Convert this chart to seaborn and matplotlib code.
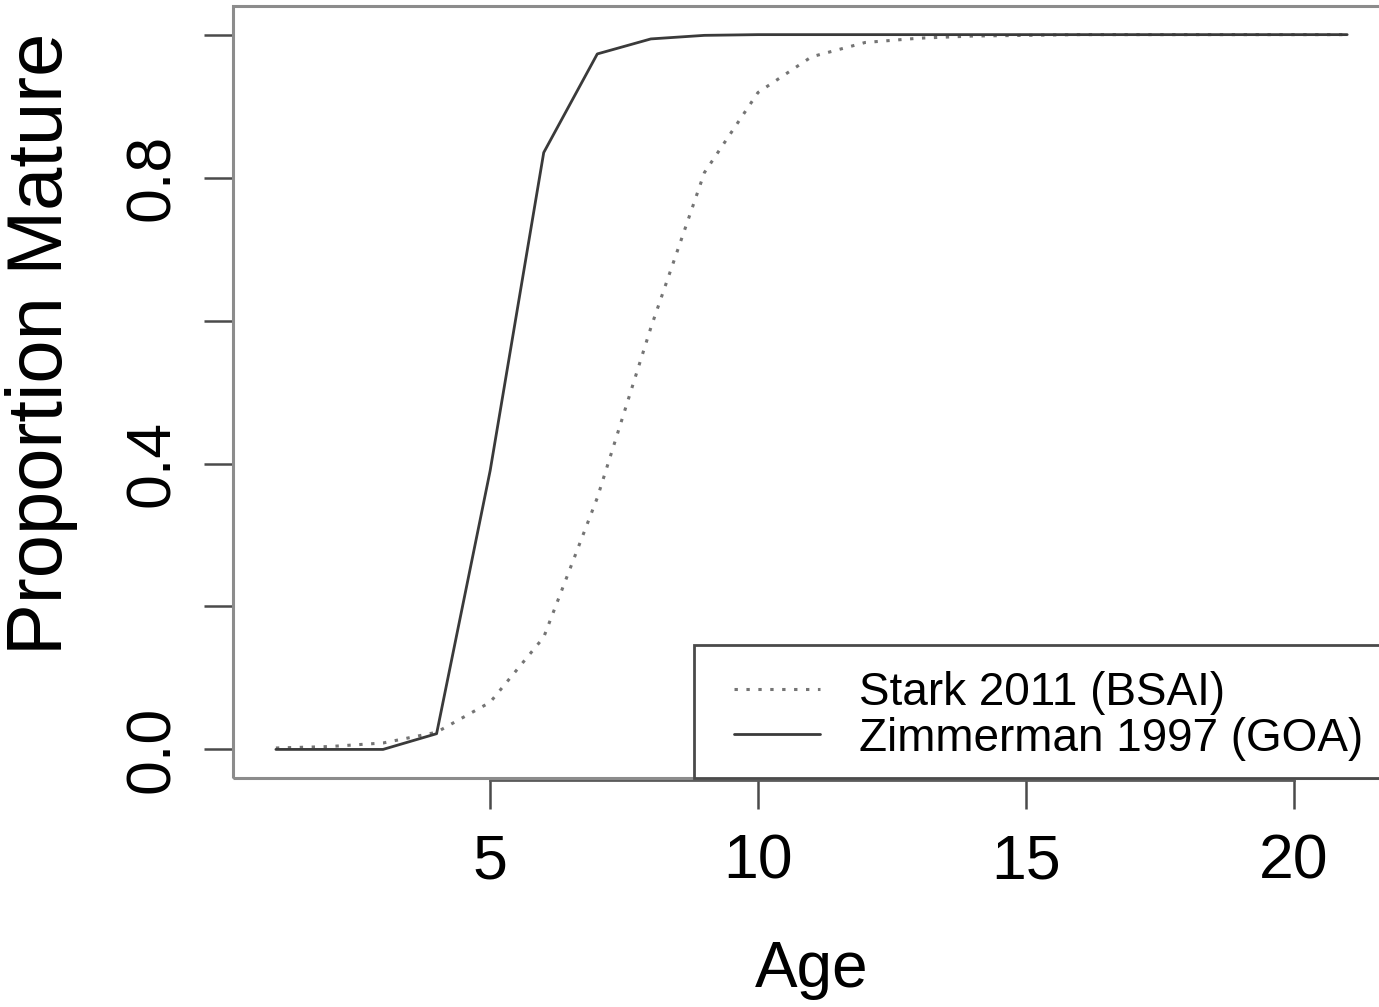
import matplotlib
matplotlib.use("Agg")
import matplotlib.pyplot as plt
from matplotlib.patches import Rectangle
import seaborn as sns
import pandas as pd

# Proportion mature at age for two maturity schedules
age = list(range(1, 22))
stark_2011 = [0.002, 0.004, 0.009, 0.024, 0.066, 0.157, 0.352, 0.590, 0.807,
              0.919, 0.969, 0.989, 0.995, 0.998, 0.999, 1.0, 1.0, 1.0, 1.0,
              1.0, 1.0]
zimmerman_1997 = [0.0, 0.0, 0.0, 0.022, 0.39, 0.835, 0.973, 0.994, 0.999,
                  1.0, 1.0, 1.0, 1.0, 1.0, 1.0, 1.0, 1.0, 1.0, 1.0, 1.0, 1.0]
series_names = ["Stark 2011 (BSAI)", "Zimmerman 1997 (GOA)"]
x_ticks = [5, 10, 15, 20]
y_ticks = [0.0, 0.2, 0.4, 0.6, 0.8, 1.0]
y_tick_labels = ["0.0", "", "0.4", "", "0.8", ""]

sns.set_style("white")
plt.rcParams["font.family"] = ["Liberation Sans", "DejaVu Sans"]
plt.rcParams["text.color"] = "black"
plt.rcParams["axes.labelcolor"] = "black"

df = pd.DataFrame({
    "Age": age * 2,
    "Proportion": stark_2011 + zimmerman_1997,
    "Source": [series_names[0]] * len(age) + [series_names[1]] * len(age),
})

fig = plt.figure(figsize=(13.79, 10.07), dpi=100)
ax = fig.add_axes([0.169, 0.2274, 0.839, 0.7666])

sns.lineplot(data=df[df["Source"] == series_names[0]], x="Age", y="Proportion",
             ax=ax, color="#747474", linewidth=2.2, linestyle=(0, (1.1, 2.8)),
             label=series_names[0])
sns.lineplot(data=df[df["Source"] == series_names[1]], x="Age", y="Proportion",
             ax=ax, color="#3a3a3a", linewidth=2.0, label=series_names[1])

ax.set_xlim(0.2, 21.8)
ax.set_ylim(-0.04, 1.04)

# plot box plus separate axis lines spanning the tick range
for s in ax.spines.values():
    s.set_visible(False)
ax.add_patch(Rectangle((0, 0), 1, 1, transform=ax.transAxes, fill=False,
                       edgecolor="#8c8c8c", linewidth=2.2, zorder=5, clip_on=False))
ax.spines["bottom"].set_visible(True)
ax.spines["bottom"].set_bounds(5, 20)
ax.spines["bottom"].set_color("#5a5a5a")
ax.spines["bottom"].set_linewidth(2.0)
ax.spines["bottom"].set_position(("outward", 1.5))
ax.spines["left"].set_visible(True)
ax.spines["left"].set_bounds(0, 1)
ax.spines["left"].set_color("#3a3a3a")
ax.spines["left"].set_linewidth(2.0)

ax.set_xticks(x_ticks)
ax.set_xticklabels([str(t) for t in x_ticks])
ax.set_yticks(y_ticks)
ax.set_yticklabels(y_tick_labels, rotation=90, va="center")

ax.tick_params(axis="both", direction="out", length=21, width=1.8,
               color="#4a4a4a", labelcolor="black", labelsize=45,
               bottom=True, left=True)
ax.tick_params(axis="x", pad=16.5)
ax.tick_params(axis="y", pad=16)

ax.set_xlabel("Age", fontsize=46)
ax.set_ylabel("Proportion Mature", fontsize=56)
ax.xaxis.set_label_coords(0.5, -0.21)
ax.yaxis.set_label_coords(-0.134, 0.563)

# legend box anchored to the lower-right corner of the plot
ax.add_patch(Rectangle((0.3984, 0.0), 0.6016, 0.172, transform=ax.transAxes,
                       facecolor="white", edgecolor="#4a4a4a", linewidth=2.0,
                       zorder=6, clip_on=False))
leg = ax.legend(loc="upper left", bbox_to_anchor=(0.433, 0.139),
                borderaxespad=0, borderpad=0, frameon=False,
                prop={"size": 33}, handlelength=1.88, handletextpad=0.85,
                labelspacing=0.04)
leg.set_zorder(7)
for txt in leg.get_texts():
    txt.set_color("black")

fig.savefig("out.png", dpi=100, facecolor="white")
